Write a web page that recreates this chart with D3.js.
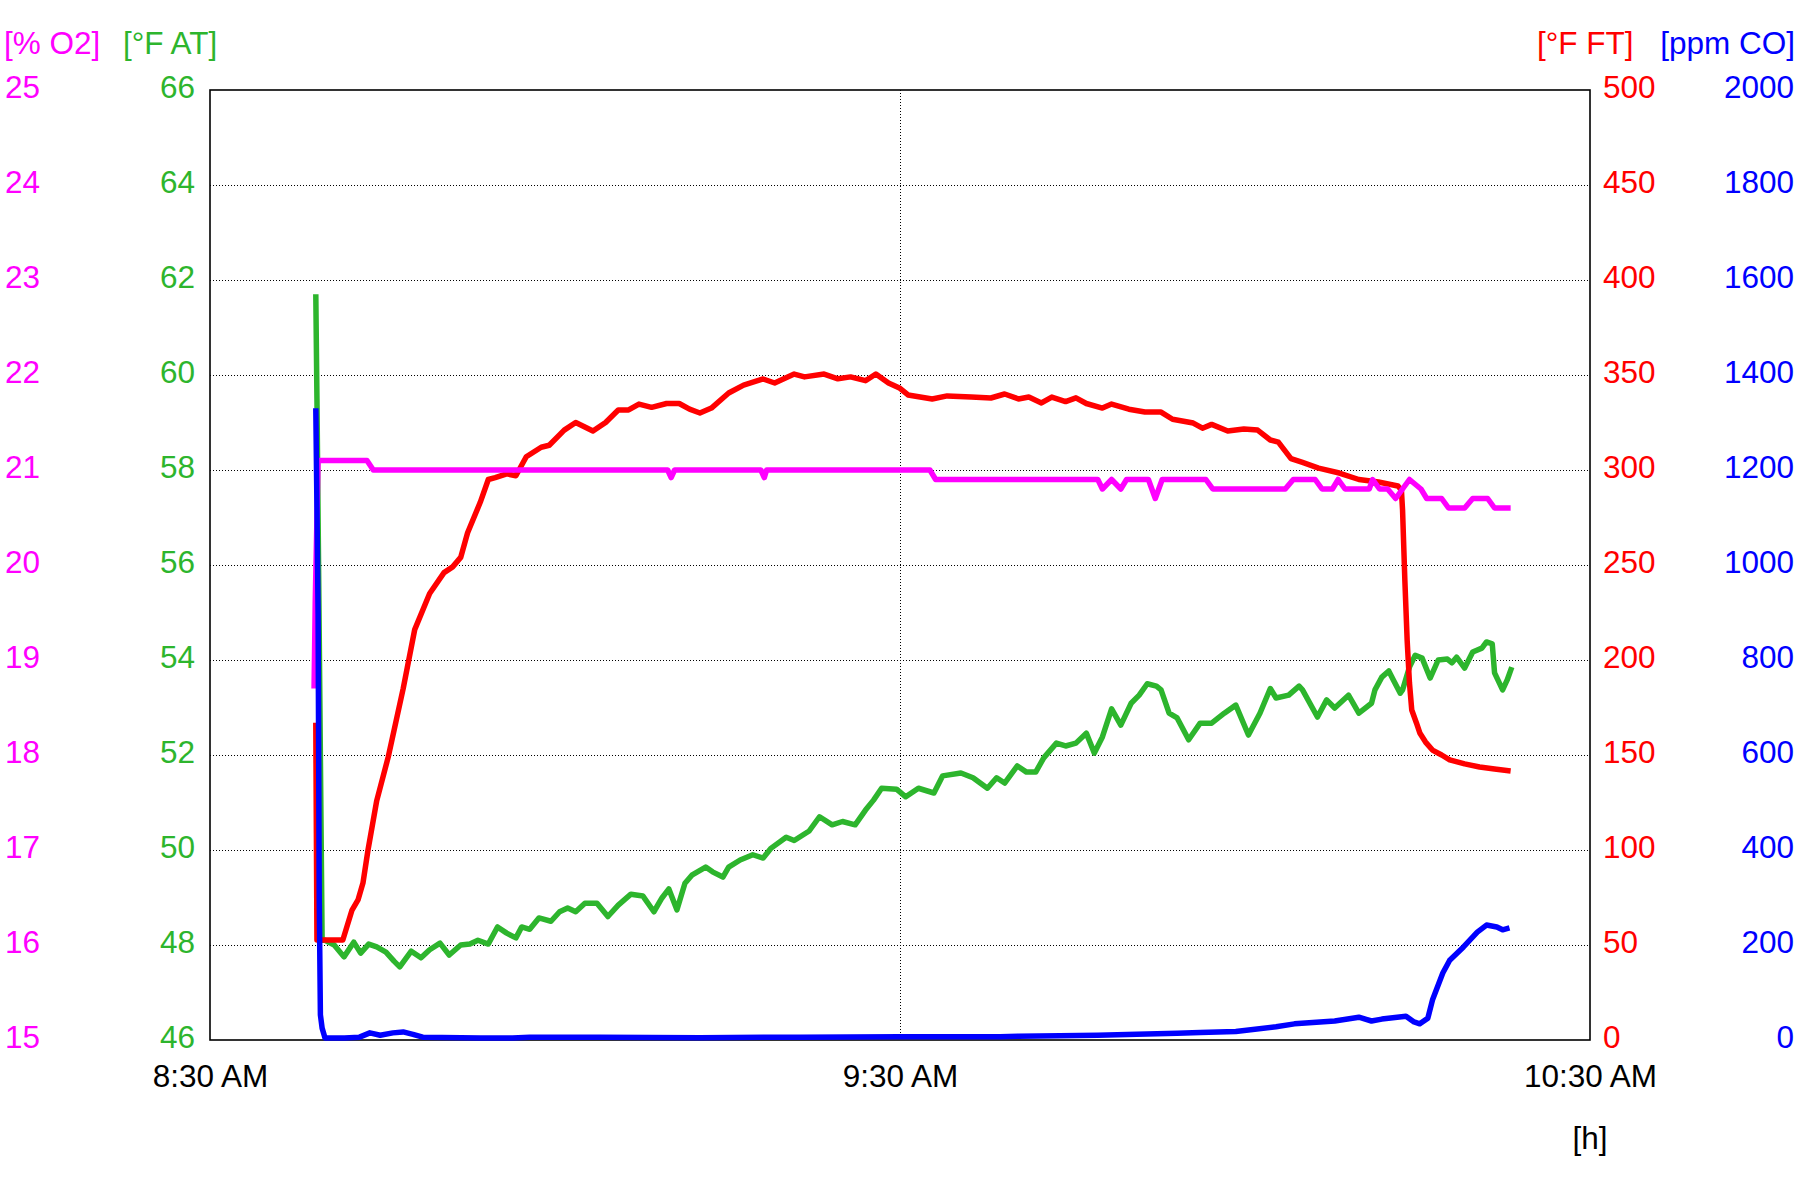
<!DOCTYPE html>
<html>
<head>
<meta charset="utf-8">
<script src="https://cdn.jsdelivr.net/npm/d3@7"></script>
<style>
  html, body { margin: 0; padding: 0; background: #fff; }
  svg { display: block; }
  text { font-family: "Liberation Sans", Arial, sans-serif; font-size: 31.5px; }
</style>
</head>
<body>
<svg id="chart" width="1800" height="1200"></svg>
<script>
// ---- Data (time = minutes after 8:30 AM) ----
const timeTickLabels = ["8:30 AM", "9:30 AM", "10:30 AM"];
const timeTickMinutes = [0, 60, 120];
const o2Ticks = [15, 16, 17, 18, 19, 20, 21, 22, 23, 24, 25];
const atTicks = [46, 48, 50, 52, 54, 56, 58, 60, 62, 64, 66];
const ftTicks = [0, 50, 100, 150, 200, 250, 300, 350, 400, 450, 500];
const coTicks = [0, 200, 400, 600, 800, 1000, 1200, 1400, 1600, 1800, 2000];

const atData = [
  [9.2,61.7],[9.3,59.5],[9.5,54.5],[9.75,48.1],[10.0,48.1],[10.8,48.0],[11.65,47.75],[12.5,48.06],
  [13.1,47.83],[13.8,48.02],[14.5,47.96],[15.3,47.85],[16.0,47.66],[16.5,47.54],[17.5,47.87],
  [18.35,47.73],[19.1,47.9],[20.0,48.04],[20.8,47.79],[21.8,48.0],[22.6,48.02],[23.3,48.1],
  [24.2,48.02],[25.0,48.38],[25.8,48.25],[26.6,48.15],[27.1,48.38],[27.8,48.33],[28.6,48.57],
  [29.65,48.5],[30.4,48.7],[31.1,48.78],[31.8,48.7],[32.6,48.88],[33.65,48.88],[34.6,48.6],
  [35.5,48.84],[36.6,49.07],[37.65,49.03],[38.6,48.7],[39.3,48.99],[39.9,49.18],[40.6,48.74],
  [41.3,49.3],[41.9,49.47],[43.1,49.64],[43.7,49.54],[44.6,49.43],[45.1,49.64],[46.1,49.79],
  [47.2,49.9],[48.1,49.83],[48.8,50.04],[50.1,50.27],[50.8,50.2],[52.1,50.4],[53.0,50.7],
  [54.1,50.53],[55.0,50.6],[56.1,50.53],[57.0,50.84],[57.7,51.05],[58.4,51.3],[59.7,51.28],
  [60.5,51.12],[61.6,51.3],[62.95,51.2],[63.7,51.56],[65.3,51.62],[66.35,51.52],[67.6,51.3],
  [68.4,51.52],[69.1,51.41],[70.2,51.77],[71.0,51.64],[71.8,51.64],[72.5,51.94],[73.6,52.25],
  [74.4,52.19],[75.3,52.25],[76.2,52.46],[76.9,52.04],[77.6,52.38],[78.4,52.97],[79.2,52.63],
  [80.1,53.09],[80.8,53.26],[81.5,53.5],[82.3,53.45],[82.7,53.37],[83.4,52.88],[84.1,52.78],
  [85.1,52.32],[86.1,52.67],[87.1,52.67],[88.2,52.88],[89.2,53.05],[90.3,52.42],[91.3,52.88],
  [92.2,53.4],[92.7,53.2],[93.8,53.26],[94.7,53.45],[95.0,53.37],[96.3,52.8],[97.1,53.16],
  [97.8,52.99],[99.0,53.26],[99.9,52.88],[101.0,53.09],[101.3,53.37],[101.9,53.64],[102.5,53.77],
  [102.9,53.58],[103.5,53.3],[103.7,53.37],[104.3,53.85],[104.8,54.1],[105.4,54.04],[106.1,53.62],
  [106.8,54.0],[107.6,54.02],[108.0,53.94],[108.4,54.06],[109.1,53.83],[109.8,54.17],[110.6,54.25],
  [111.0,54.38],[111.5,54.34],[111.7,53.73],[112.4,53.37],[112.8,53.58],[113.2,53.85]
];

const ftData = [
  [9.2,167],[9.25,109],[9.3,52.6],[9.8,52.6],[11.55,52.6],[12.35,68.4],[12.87,73.7],[13.3,82.6],
  [13.74,100],[14.5,126],[15.5,149],[16.8,185],[17.8,216],[19.1,235],[20.35,246],[21.1,249],
  [21.8,254],[22.4,267],[23.5,283],[24.2,295],[24.8,296],[25.8,298],[26.6,297],[27.5,307],
  [28.8,312],[29.5,313],[30.8,321],[31.8,325],[33.3,320.5],[34.4,325],[35.5,331.6],[36.4,331.6],
  [37.3,334.7],[38.4,333],[39.7,335],[40.8,335],[41.7,332],[42.6,330],[43.6,332.6],[45.1,340.5],
  [46.4,344.7],[48.1,347.9],[49.1,345.8],[50.8,350.5],[51.7,349],[53.4,350.5],[54.6,348],
  [55.7,349],[57.0,347],[57.9,350.5],[59.0,345.8],[60.0,343],[60.7,339.5],[62.8,337.4],[64.1,339],
  [66.2,338.4],[67.9,337.9],[69.1,340],[70.3,337.4],[71.2,338.4],[72.3,335.3],[73.2,338.4],
  [74.4,336],[75.3,338],[76.2,335],[77.6,332.6],[78.4,334.7],[79.9,332],[81.3,330.5],[82.7,330.5],
  [83.7,326.7],[85.5,324.7],[86.3,322],[87.1,324],[88.5,320.5],[89.9,321.6],[91.1,321],
  [92.2,315.8],[92.9,314.7],[94.0,306],[95.0,304],[96.4,301],[98.2,298.4],[99.9,295],[101.6,293.7],
  [103.3,291.6],[103.6,289.5],[103.7,279],[103.9,242],[104.1,210.5],[104.3,188],[104.5,173.7],
  [104.9,167],[105.2,161.6],[105.7,156.8],[106.3,152.6],[107.1,150],[107.8,147.4],[109.1,145.3],
  [110.4,143.7],[111.7,142.6],[113.1,141.6]
];

const o2Data = [
  [9.05,18.7],[9.15,19.6],[9.3,20.5],[9.4,21.1],[13.65,21.1],[14.2,21.0],[39.8,21.0],[40.1,20.92],
  [40.4,21.0],[47.9,21.0],[48.2,20.92],[48.4,21.0],[62.6,21.0],[63.1,20.9],[77.2,20.9],[77.6,20.8],
  [78.4,20.9],[79.2,20.8],[79.7,20.9],[81.6,20.9],[82.2,20.7],[82.8,20.9],[86.6,20.9],[87.2,20.8],
  [93.5,20.8],[94.2,20.9],[96.1,20.9],[96.7,20.8],[97.6,20.8],[98.1,20.9],[98.7,20.8],[100.8,20.8],
  [101.1,20.9],[101.7,20.8],[102.4,20.8],[103.1,20.7],[104.3,20.9],[105.3,20.8],[105.8,20.7],
  [107.1,20.7],[107.7,20.6],[109.1,20.6],[109.8,20.7],[111.1,20.7],[111.7,20.6],[113.1,20.6]
];

const coData = [
  [9.2,1330],[9.3,1122],[9.4,895],[9.5,295],[9.6,53],[9.75,25],[10.0,4],[11.7,4],[13.0,6],
  [13.9,15],[14.8,10],[15.9,15],[16.8,17],[17.65,12],[18.5,6],[23.5,4],[26.3,4],[27.8,6],
  [33.9,6],[42.6,5],[51.3,6],[60.0,7],[68.7,7],[70.3,8],[73.9,9],[77.2,10],[80.6,12],[84.1,14],
  [86.1,16],[89.2,18],[92.7,28],[94.3,34],[97.8,40],[99.9,48],[101.0,40],[101.9,44],[104.0,50],
  [104.7,38],[105.2,34],[105.9,46],[106.3,84],[107.2,141],[107.8,168],[109.0,196],[110.2,227],
  [111.0,242],[111.9,238],[112.4,232],[113.0,236]
];

// ---- Layout ----
const M = { left: 210, right: 1590, top: 90, bottom: 1040 };
const colors = { o2: "#ff00ff", at: "#2db52d", ft: "#ff0000", co: "#0000ff" };
const fontPx = 31.5;

const svg = d3.select("#chart");
const base = new Date(2000, 0, 1, 8, 30);
const toDate = m => new Date(base.getTime() + m * 60000);

const x = d3.scaleTime().domain([toDate(0), toDate(120)]).range([M.left, M.right]);
const yO2 = d3.scaleLinear().domain([15, 25]).range([M.bottom, M.top]);
const yAT = d3.scaleLinear().domain([46, 66]).range([M.bottom, M.top]);
const yFT = d3.scaleLinear().domain([0, 500]).range([M.bottom, M.top]);
const yCO = d3.scaleLinear().domain([0, 2000]).range([M.bottom, M.top]);

// gridlines
const grid = svg.append("g");
grid.selectAll("line.h").data(ftTicks.slice(1, -1)).join("line")
  .attr("x1", M.left).attr("x2", M.right)
  .attr("y1", d => yFT(d)).attr("y2", d => yFT(d))
  .attr("stroke", "#000").attr("stroke-width", 1).attr("stroke-dasharray", "1,2")
  .attr("transform", "translate(0,0.5)");
grid.selectAll("line.v").data(timeTickMinutes.slice(1, -1)).join("line")
  .attr("x1", d => x(toDate(d))).attr("x2", d => x(toDate(d)))
  .attr("y1", M.top).attr("y2", M.bottom)
  .attr("stroke", "#000").attr("stroke-width", 1).attr("stroke-dasharray", "1,2")
  .attr("transform", "translate(0.5,0)");

// frame
svg.append("rect")
  .attr("x", M.left).attr("y", M.top)
  .attr("width", M.right - M.left).attr("height", M.bottom - M.top)
  .attr("fill", "none").attr("stroke", "#000").attr("stroke-width", 1.6);

// lines (order: green, red, magenta, blue)
function drawLine(data, yScale, color) {
  const line = d3.line().x(d => x(toDate(d[0]))).y(d => yScale(d[1]));
  svg.append("path").datum(data)
    .attr("d", line)
    .attr("fill", "none").attr("stroke", color)
    .attr("stroke-width", 5.5).attr("stroke-linejoin", "round").attr("stroke-linecap", "butt");
}
drawLine(atData, yAT, colors.at);
drawLine(ftData, yFT, colors.ft);
drawLine(o2Data, yO2, colors.o2);
drawLine(coData, yCO, colors.co);

// axes
function styleAxis(g, color, dy) {
  g.select(".domain").remove();
  g.selectAll(".tick line").remove();
  const t = g.selectAll("text").attr("fill", color).style("font-size", fontPx + "px")
    .style("font-family", '"Liberation Sans", Arial, sans-serif');
  if (dy !== undefined) t.attr("dy", dy);
}
svg.append("g").attr("transform", "translate(5,0)")
  .call(d3.axisRight(yO2).tickValues(o2Ticks).tickSize(0).tickPadding(0).tickFormat(d3.format("d")))
  .call(g => styleAxis(g, colors.o2, "0.25em"));
svg.append("g").attr("transform", "translate(195,0)")
  .call(d3.axisLeft(yAT).tickValues(atTicks).tickSize(0).tickPadding(0).tickFormat(d3.format("d")))
  .call(g => styleAxis(g, colors.at, "0.25em"));
svg.append("g").attr("transform", "translate(1603,0)")
  .call(d3.axisRight(yFT).tickValues(ftTicks).tickSize(0).tickPadding(0).tickFormat(d3.format("d")))
  .call(g => styleAxis(g, colors.ft, "0.25em"));
svg.append("g").attr("transform", "translate(1794,0)")
  .call(d3.axisLeft(yCO).tickValues(coTicks).tickSize(0).tickPadding(0).tickFormat(d3.format("d")))
  .call(g => styleAxis(g, colors.co, "0.25em"));
svg.append("g").attr("transform", `translate(0,${M.bottom})`)
  .call(d3.axisBottom(x).tickValues(timeTickMinutes.map(toDate)).tickSize(0).tickPadding(25)
    .tickFormat((d, i) => timeTickLabels[i]))
  .call(g => styleAxis(g, "#000"));

// unit titles
const titles = [
  { t: "[% O2]", x: 4, anchor: "start", c: colors.o2 },
  { t: "[°F AT]", x: 123, anchor: "start", c: colors.at },
  { t: "[°F FT]", x: 1537, anchor: "start", c: colors.ft },
  { t: "[ppm CO]", x: 1795, anchor: "end", c: colors.co }
];
svg.selectAll("text.title").data(titles).join("text")
  .attr("class", "title")
  .attr("x", d => d.x).attr("y", 54)
  .attr("text-anchor", d => d.anchor)
  .attr("fill", d => d.c)
  .text(d => d.t);

svg.append("text").attr("x", 1590).attr("y", 1149).attr("text-anchor", "middle")
  .attr("fill", "#000").text("[h]");
</script>
</body>
</html>
